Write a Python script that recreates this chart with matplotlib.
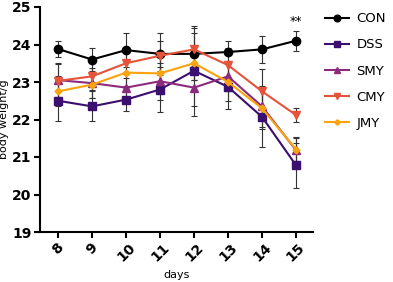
import numpy as np
import matplotlib.pyplot as plt
from matplotlib.lines import Line2D

# body weight by day
days = [8, 9, 10, 11, 12, 13, 14, 15]
groups = ['CON', 'DSS', 'SMY', 'CMY', 'JMY']

con = [23.88, 23.6, 23.85, 23.75, 23.75, 23.8, 23.87, 24.1]
dss = [22.5, 22.35, 22.53, 22.8, 23.3, 22.87, 22.07, 20.78]
smy = [23.05, 22.97, 22.85, 23.02, 22.85, 23.15, 22.35, 21.18]
cmy = [23.03, 23.15, 23.5, 23.7, 23.87, 23.45, 22.75, 22.12]
jmy = [22.75, 22.93, 23.25, 23.23, 23.5, 23.0, 22.3, 21.2]

con_err = [0.22, 0.3, 0.45, 0.55, 0.7, 0.3, 0.35, 0.27]
dss_err = [0.55, 0.4, 0.3, 0.6, 1.2, 0.6, 0.8, 0.6]
smy_err = [0.45, 0.4, 0.35, 0.5, 0.5, 0.4, 0.55, 0.35]
cmy_err = [0.45, 0.35, 0.4, 0.4, 0.45, 0.45, 0.6, 0.2]
jmy_err = [0.4, 0.35, 0.35, 0.45, 0.45, 0.5, 0.55, 0.3]

values = [con, dss, smy, cmy, jmy]
errors = [con_err, dss_err, smy_err, cmy_err, jmy_err]
colors = ['black', '#3b0f6f', '#8c2a7e', '#e4533a', '#fba30c']
markers = ['o', 's', '^', 'v', 'D']
msizes = [6, 6, 6, 6, 3.5]

fig = plt.figure(figsize=(3.93, 2.82), dpi=100)
ax = fig.add_axes([40/393, 1-232/282, 273/393, 225/282])

handles = []
for g, v, e, c, m, ms in zip(groups, values, errors, colors, markers, msizes):
    ax.errorbar(days, v, yerr=e, color=c, marker=m, markersize=ms, lw=1.5,
                ecolor='#333333', elinewidth=0.8, capsize=2, capthick=0.8)
    handles.append(Line2D([], [], color=c, marker=m, lw=1.5,
                          markersize=ms * 0.8, label=g))

ax.text(15, 24.45, '**', ha='center', va='bottom', fontsize=9)

ax.set_xlim(7.47, 15.5)
ax.set_ylim(19, 25)
ax.set_xticks(days)
ax.set_yticks([19, 20, 21, 22, 23, 24, 25])
ax.set_xticklabels(days, rotation=45, fontweight='bold', fontsize=10)
ax.set_yticklabels([19, 20, 21, 22, 23, 24, 25], fontweight='bold', fontsize=10)
ax.set_xlabel('days', fontsize=8)
ax.set_ylabel('body weight/g', fontsize=8)
ax.yaxis.set_label_coords(-0.115, 0.5)
ax.xaxis.set_label_coords(0.5, -0.17)
ax.spines['top'].set_visible(False)
ax.spines['right'].set_visible(False)
ax.spines['left'].set_linewidth(1.5)
ax.spines['bottom'].set_linewidth(1.5)
ax.tick_params(width=1.5, length=4, pad=2)

ax.legend(handles=handles, loc='upper left', bbox_to_anchor=(1.0, 1.03),
          frameon=False, fontsize=9.5, handlelength=1.8, handletextpad=0.6,
          labelspacing=1.0)

fig.savefig('out.png', dpi=100)
